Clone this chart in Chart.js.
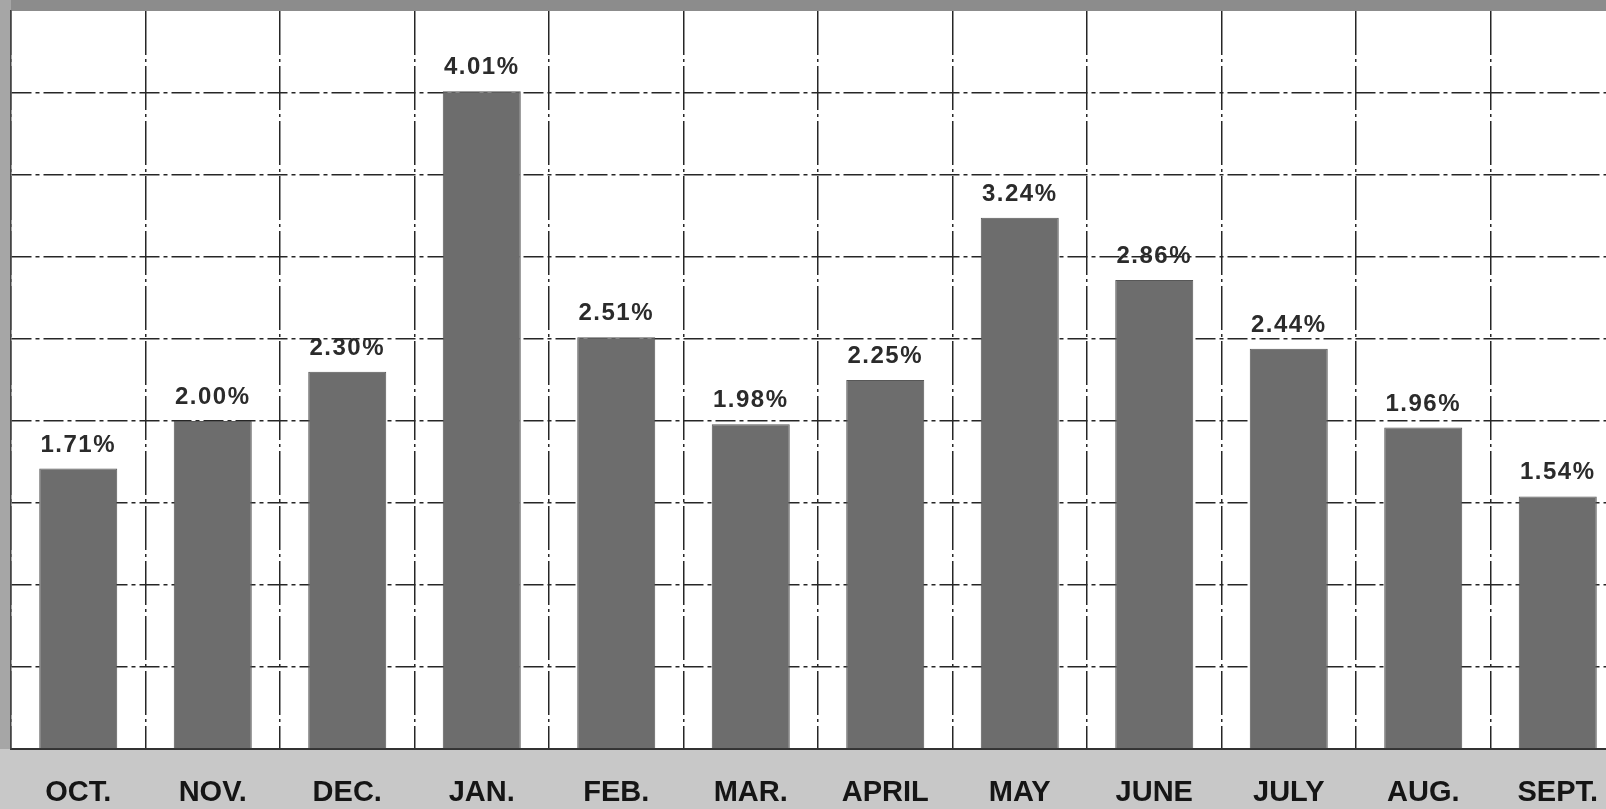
<!DOCTYPE html>
<html>
<head>
<meta charset="utf-8">
<script src="https://cdn.jsdelivr.net/npm/chart.js@4"></script>
<style>
  html, body { margin: 0; padding: 0; overflow: hidden; background: #c9c9c9; }
  #wrap { position: relative; width: 1640px; height: 809px; }
</style>
</head>
<body>
<div id="wrap"><canvas id="rateChart"></canvas></div>
<script>
(function () {
  "use strict";

  const months = ['OCT.', 'NOV.', 'DEC.', 'JAN.', 'FEB.', 'MAR.', 'APRIL', 'MAY', 'JUNE', 'JULY', 'AUG.', 'SEPT.'];
  const rates = [1.71, 2.00, 2.30, 4.01, 2.51, 1.98, 2.25, 3.24, 2.86, 2.44, 1.96, 1.54];
  const yMax = 4.5;
  const yStep = 0.5;

  // grey scanned page behind, white plot area
  const paper = {
    id: 'paper',
    beforeDraw(chart) {
      const {ctx, chartArea: a, width, height} = chart;
      ctx.save();
      ctx.fillStyle = '#c8c8c8';
      ctx.fillRect(0, 0, width, height);
      ctx.fillStyle = '#8c8c8c';
      ctx.fillRect(0, 0, width, a.top);
      ctx.fillStyle = '#a6a6a6';
      ctx.fillRect(0, 0, a.left, a.bottom);
      ctx.fillStyle = '#ffffff';
      ctx.fillRect(a.left, a.top, a.right - a.left, a.bottom - a.top);
      ctx.restore();
    }
  };

  const valueLabels = {
    id: 'valueLabels',
    afterDatasetsDraw(chart) {
      const {ctx} = chart;
      const meta = chart.getDatasetMeta(0);
      ctx.save();
      ctx.font = 'bold 24px "Liberation Sans", Arial, sans-serif';
      ctx.letterSpacing = '1.5px';
      ctx.fillStyle = '#2b2b2b';
      ctx.textAlign = 'center';
      ctx.textBaseline = 'alphabetic';
      meta.data.forEach((bar, i) => {
        ctx.fillText(rates[i].toFixed(2) + '%', bar.x, bar.y - 17);
      });
      ctx.restore();
    }
  };

  new Chart(document.getElementById('rateChart'), {
    type: 'bar',
    data: {
      labels: months,
      datasets: [{
        data: rates,
        backgroundColor: '#6d6d6d',
        borderColor: '#575757',
        borderWidth: 1,
        barPercentage: 0.58,
        categoryPercentage: 1
      }]
    },
    options: {
      responsive: true,
      maintainAspectRatio: false,
      animation: false,
      layout: { padding: { left: 11, top: 11, right: 15, bottom: 0 } },
      plugins: {
        legend: { display: false },
        tooltip: { enabled: false }
      },
      scales: {
        x: {
          afterFit: s => { s.height = 60; },
          grid: {
            color: '#262626',
            lineWidth: 1.5,
            drawTicks: false
          },
          border: { color: '#333333', width: 2, dash: [44, 4, 3, 4] },
          ticks: {
            padding: 27,
            color: '#151515',
            font: { family: '"Liberation Sans", Arial, sans-serif', size: 29, weight: 'bold' }
          }
        },
        y: {
          min: 0,
          max: yMax,
          afterFit: s => { s.width = 0; },
          ticks: { display: false, stepSize: yStep },
          grid: {
            color: ctx => ctx.tick && ctx.tick.value >= yMax ? 'rgba(0,0,0,0)' : '#262626',
            lineWidth: 1.5,
            drawTicks: false
          },
          border: { color: '#444444', width: 1.5, dash: [20, 4, 4, 4] }
        }
      }
    },
    plugins: [paper, valueLabels]
  });
})();
</script>
</body>
</html>
